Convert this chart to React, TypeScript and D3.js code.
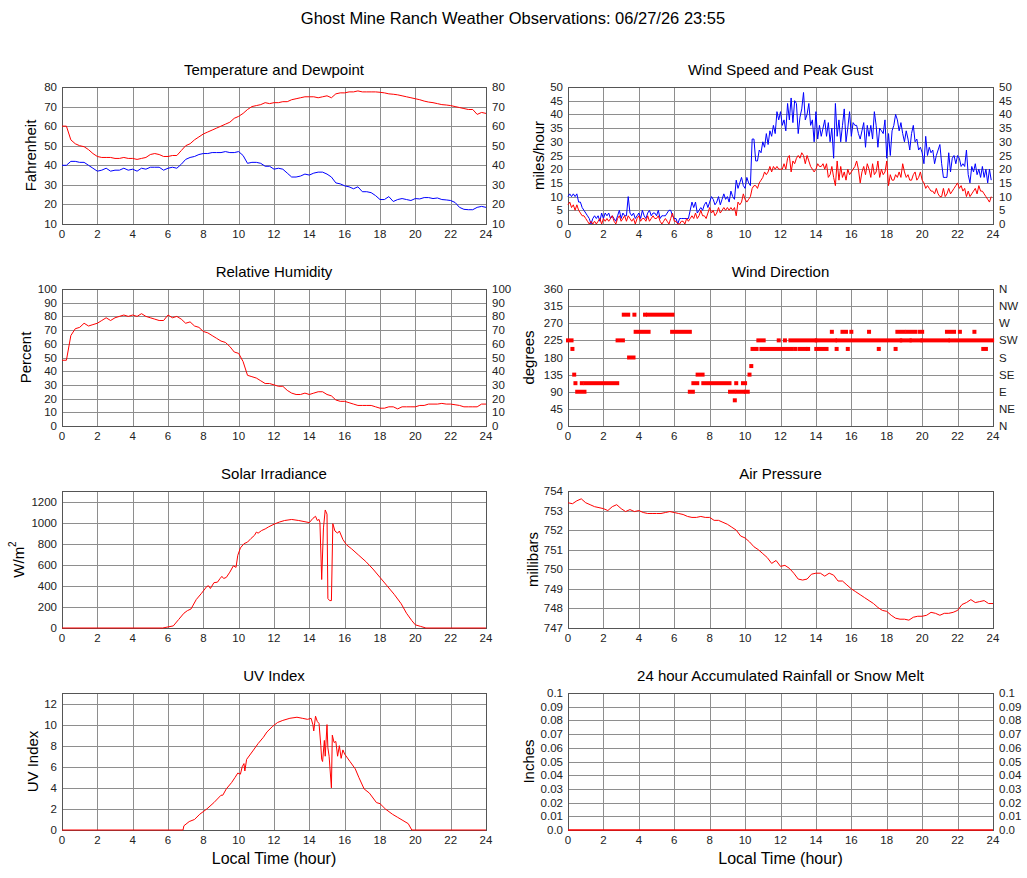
import React from "react";
import * as d3 from "d3";

// ---- data ----

const hourTicks = [0, 2, 4, 6, 8, 10, 12, 14, 16, 18, 20, 22, 24];

// temperature / dewpoint / humidity / pressure, every 15 minutes from 0:00
const tempF = [
  60, 60, 53, 51, 50, 49.5, 48, 46, 44.5, 44, 44, 44, 43.5, 43.5, 44, 43.5,
  43.5, 43, 43.5, 44, 45.5, 46, 45.5, 44.5, 44.5, 45, 45, 47.5, 50, 51, 53, 54.5,
  56, 57, 58, 59, 60, 61, 62, 64, 65, 66.5, 68.5, 70, 70.5, 71, 72, 71.5,
  72, 72, 72.5, 72.5, 73.5, 74, 74.5, 75, 75, 75, 74.5, 75, 75.5, 74.5, 76.5, 77,
  77, 77.5, 77.5, 78, 77.5, 77.5, 77.5, 77.5, 77.3, 77, 76.5, 76.3, 76, 75.5, 75, 74.5,
  74, 73.5, 72.8, 72.3, 72, 71.5, 71, 70.8, 70.5, 70, 69.5, 69, 68.5, 68.5, 66, 67,
  66.5,
];

const dewF = [
  40, 40, 42, 42, 41.5, 41.5, 40, 38.5, 37, 37.5, 38.5, 37, 37.5, 37.5, 38.5, 37.5,
  38, 37, 38.5, 38, 39, 39, 39, 37.5, 38.5, 39, 38.5, 40.5, 43, 44, 44.5, 45.5,
  46, 46, 46.5, 46.5, 46.5, 47, 46.5, 46.5, 47, 45, 41, 41.5, 41.5, 41, 39.5, 39.5,
  38, 38.5, 38, 36, 34, 34, 34.5, 35.5, 35, 36, 36.5, 36.5, 35.5, 34, 31, 30.5,
  29.5, 29, 28, 29, 26.5, 26.5, 26, 24.5, 22.5, 22.5, 24, 21.5, 22.5, 23, 22.5, 22,
  23, 22.8, 23.5, 23.5, 23, 23.3, 22.5, 22.3, 22, 21, 18.5, 17.5, 17.3, 17.3, 18.5, 19,
  18.5,
];

const humidity = [
  48, 48, 66, 71, 72, 75, 73, 74, 75, 77, 79, 77, 79, 80, 81, 80,
  81, 80, 82, 80, 79, 78, 77, 77, 81, 79, 80, 78, 75, 76, 73, 72,
  69, 68, 66, 64, 62, 61, 58, 54, 53, 47, 37, 36, 35, 33, 31, 31,
  30, 29, 29, 26, 24, 23, 23, 24, 23, 24, 25, 25, 23, 22, 19, 18,
  18, 17, 16, 15, 15, 15, 15, 14, 13, 13, 14, 14, 12.5, 14, 14, 14,
  14, 15, 15, 16, 16, 16, 16.5, 16, 16, 15.5, 15, 14, 14, 14, 14, 16,
  16,
];

const pressureMb = [
  753.4, 753.35, 753.5, 753.6, 753.4, 753.3, 753.2, 753.15, 753.1, 753.0, 753.2, 753.3,
  753.1, 752.95, 753.05, 752.95, 753.0, 752.9, 752.85, 752.85, 752.85, 752.85, 752.9, 752.95,
  752.9, 752.85, 752.8, 752.7, 752.65, 752.65, 752.7, 752.65, 752.65, 752.5, 752.5, 752.4,
  752.3, 752.15, 752.0, 751.7, 751.6, 751.4, 751.15, 751.0, 750.8, 750.6, 750.3, 750.45,
  750.15, 750.2, 750.05, 749.8, 749.5, 749.45, 749.5, 749.75, 749.8, 749.8, 749.65, 749.8,
  749.7, 749.4, 749.4, 749.2, 749.0, 748.85, 748.7, 748.55, 748.4, 748.25, 748.05, 747.9,
  747.85, 747.65, 747.5, 747.45, 747.45, 747.4, 747.55, 747.6, 747.6, 747.65, 747.8, 747.75,
  747.65, 747.75, 747.75, 747.8, 747.9, 748.2, 748.3, 748.45, 748.3, 748.35, 748.4, 748.25,
  748.25,
];

// wind, every 6 minutes from 0:00
const windGust = [
  10, 11, 10, 11, 10, 11, 8, 8, 6, 5,
  4, 3, 2, 0, 2, 3, 2, 3, 1, 4,
  2, 4, 3, 4, 2, 3, 2, 1, 3, 5,
  2, 4, 3, 3, 10, 4, 3, 4, 2, 3,
  4, 2, 5, 3, 2, 4, 5, 3, 4, 4,
  3, 5, 2, 3, 3, 3, 4, 5, 5, 3,
  2, 2, 0, 2, 2, 2, 2, 2, 2, 5,
  8, 6, 8, 4, 5, 6, 5, 7, 8, 6,
  8, 10, 9, 7, 8, 10, 7, 9, 11, 9,
  10, 8, 12, 10, 9, 16, 13, 15, 17, 14,
  13, 17, 15, 14, 31, 31, 23, 23, 27, 26,
  30, 28, 33, 29, 34, 32, 36, 33, 41, 38,
  41, 36, 38, 34, 44, 38, 46, 37, 45, 44,
  33, 39, 42, 48, 38, 40, 44, 36, 38, 30,
  41, 31, 36, 32, 35, 38, 32, 37, 30, 35,
  24, 44, 32, 38, 30, 36, 42, 30, 35, 41,
  32, 37, 36, 36, 33, 31, 34, 37, 28, 36,
  32, 36, 31, 41, 36, 28, 35, 34, 33, 38,
  24, 33, 25, 34, 36, 40, 38, 34, 37, 33,
  30, 34, 31, 27, 33, 36, 30, 31, 27, 28,
  26, 22, 32, 25, 28, 26, 27, 22, 25, 27,
  29, 22, 17, 17, 17, 26, 19, 24, 25, 22,
  25, 24, 21, 22, 21, 27, 18, 15, 21, 19,
  22, 18, 20, 17, 21, 17, 20, 15, 20, 16,
];

const windSpeed = [
  7, 8, 6, 7, 5, 7, 5, 4, 3, 3,
  2, 1, 0, 1, 0, 1, 0, 1, 2, 0,
  2, 1, 2, 1, 2, 3, 1, 0, 2, 3,
  1, 2, 3, 1, 3, 2, 1, 2, 0, 2,
  3, 1, 2, 2, 1, 3, 1, 2, 3, 2,
  2, 3, 1, 0, 1, 2, 1, 0, 2, 4,
  1, 1, 0, 0, 1, 1, 0, 2, 1, 2,
  3, 2, 4, 2, 3, 5, 3, 3, 2, 4,
  6, 4, 5, 3, 4, 6, 4, 5, 6, 5,
  6, 5, 6, 5, 6, 3, 8, 7, 8, 11,
  9, 8, 9, 10, 13, 14, 14, 13, 15, 16,
  17, 19, 18, 19, 21, 19, 21, 20, 21, 20,
  20, 20, 22, 20, 24, 25, 19, 23, 22, 24,
  25, 24, 26, 25, 22, 25, 23, 21, 20, 19,
  20, 22, 21, 21, 22, 20, 22, 17, 18, 21,
  17, 14, 23, 16, 21, 17, 19, 16, 20, 18,
  19, 20, 21, 23, 20, 15, 19, 21, 18, 22,
  20, 17, 22, 18, 19, 23, 17, 20, 18, 19,
  23, 14, 18, 16, 16, 18, 17, 19, 17, 22,
  19, 17, 18, 16, 16, 18, 19, 16, 17, 19,
  16, 15, 13, 14, 13, 12, 12, 11, 13, 11,
  10, 10, 13, 10, 11, 13, 11, 12, 13, 14,
  15, 13, 14, 12, 13, 10, 12, 10, 11, 12,
  13, 11, 14, 12, 12, 11, 10, 9, 8, 10,
];

// wind direction runs: [start hour, end hour, degrees]
const dirRuns: [number, number, number][] = [
  [0, 0.2, 225], [0.25, 0.25, 202.5], [0.35, 0.35, 135], [0.42, 0.42, 112.5],
  [0.52, 0.93, 90], [0.78, 0.78, 112.5], [0.98, 2.78, 112.5], [2.8, 3.1, 225],
  [3.15, 3.4, 292.5], [3.45, 3.7, 180], [3.75, 3.75, 292.5], [3.82, 4.55, 247.5],
  [4.35, 4.35, 292.5], [4.52, 5.9, 292.5], [5.88, 6.88, 247.5], [6.88, 7.05, 90],
  [7.08, 7.3, 112.5], [7.32, 7.6, 135], [7.64, 9.12, 112.5], [9.15, 9.35, 90],
  [9.42, 9.42, 67.5], [9.5, 9.5, 112.5], [9.55, 9.88, 90], [9.88, 10.0, 112.5],
  [10.05, 10.15, 90], [10.25, 10.25, 135], [10.35, 10.35, 157.5], [10.42, 10.65, 202.5],
  [10.75, 11.05, 225], [10.92, 12.64, 202.5], [11.9, 11.9, 225], [12.25, 12.25, 225],
  [12.56, 13.96, 225], [12.84, 12.84, 202.5], [13.08, 13.4, 202.5], [13.56, 13.56, 202.5],
  [14.02, 14.6, 202.5], [14.05, 15.08, 225], [14.9, 14.9, 247.5], [15.17, 15.17, 202.5],
  [15.22, 18.76, 225], [15.5, 15.7, 247.5], [15.8, 15.8, 202.5], [16.0, 16.0, 247.5],
  [17.0, 17.0, 247.5], [17.55, 17.55, 202.5], [18.5, 18.5, 202.5], [18.6, 18.95, 247.5],
  [18.85, 19.3, 225], [19.15, 19.6, 247.5], [19.4, 19.9, 225], [19.85, 20.0, 247.5],
  [20.02, 21.45, 225], [21.4, 21.8, 247.5], [21.6, 23.95, 225], [22.13, 22.13, 247.5],
  [22.95, 22.95, 247.5], [23.45, 23.6, 202.5],
];
const compass = ["N", "NE", "E", "SE", "S", "SW", "W", "NW", "N"];

// solar irradiance [hour, W/m2]
const solar: [number, number][] = [
  [0, 0], [5.7, 0], [6, 10], [6.3, 20], [6.6, 80], [6.9, 140], [7.1, 165], [7.3, 180],
  [7.6, 270], [7.9, 330], [8.2, 395], [8.3, 400], [8.4, 375], [8.6, 430], [8.8, 435],
  [8.95, 470], [9.05, 490], [9.15, 470], [9.3, 480], [9.5, 530], [9.7, 590], [9.85, 575],
  [9.95, 690], [10.1, 760], [10.3, 800], [10.5, 815], [10.7, 850], [10.9, 880], [11.0, 910],
  [11.1, 900], [11.3, 925], [11.5, 940], [11.7, 960], [12.0, 985], [12.3, 1005], [12.6, 1020],
  [13.0, 1030], [13.4, 1020], [13.7, 1010], [14.0, 1000], [14.2, 1040], [14.35, 1060],
  [14.45, 1020], [14.55, 1030], [14.6, 1000], [14.7, 460], [14.8, 950], [14.9, 1120],
  [15.0, 1080], [15.05, 280], [15.15, 260], [15.25, 260], [15.33, 990], [15.45, 920],
  [15.6, 900], [15.7, 920], [15.9, 840], [16.1, 790], [16.4, 750], [16.8, 690], [17.2, 630],
  [17.6, 560], [18.0, 480], [18.4, 400], [18.8, 320], [19.2, 230], [19.5, 140], [19.8, 70],
  [20.0, 30], [20.3, 15], [20.6, 0], [24, 0],
];

// UV index [hour, index]
const uvIndex: [number, number][] = [
  [0, 0], [6.85, 0], [6.9, 0.4], [7.2, 0.8], [7.5, 1.0], [7.8, 1.5], [8.2, 2.0], [8.6, 2.6],
  [9.0, 3.3], [9.1, 3.3], [9.3, 3.9], [9.6, 4.5], [9.8, 5.0], [9.95, 5.4], [10.1, 5.3],
  [10.2, 6.0], [10.3, 6.3], [10.35, 5.6], [10.45, 6.7], [10.8, 7.5], [11.1, 8.2], [11.4, 8.8],
  [11.6, 9.3], [11.9, 9.8], [12.2, 10.2], [12.5, 10.4], [12.9, 10.6], [13.3, 10.7],
  [13.6, 10.6], [13.9, 10.5], [14.1, 10.6], [14.2, 10.0], [14.25, 9.4], [14.35, 10.8],
  [14.45, 10.3], [14.55, 10.1], [14.65, 8.0], [14.7, 6.7], [14.75, 6.5], [14.85, 8.5],
  [14.9, 7.0], [15.0, 10.0], [15.05, 7.8], [15.12, 7.0], [15.25, 4.0], [15.3, 9.0],
  [15.4, 8.3], [15.5, 8.4], [15.6, 7.0], [15.7, 8.0], [15.8, 6.8], [15.9, 7.6], [16.0, 7.2],
  [16.3, 6.5], [16.6, 5.8], [16.8, 5.0], [17.1, 3.9], [17.4, 3.5], [17.8, 2.6], [18.0, 2.5],
  [18.3, 2.0], [18.7, 1.5], [19.0, 1.2], [19.3, 0.9], [19.6, 0.6], [19.8, 0], [24, 0],
];

// 24 hour accumulated rain [hour, inches]
const rainfall: [number, number][] = [[0, 0], [24, 0]];

// ---- drawing ----

const FONT = "'Liberation Sans', Arial, Helvetica, sans-serif";
const GRID = "#8e8e8e";
const PANEL_H = 137;

type Scale = d3.ScaleLinear<number, number>;

interface PanelProps {
  left: number;
  top: number;
  width: number;
  title: string;
  domain: [number, number];
  ticks: number[];
  format?: (d: number) => string;
  right?: boolean | string[];
  yLabel: React.ReactNode;
  labelGap: number;
  xTitle?: boolean;
  children: (x: Scale, y: Scale) => React.ReactNode;
}

const px = (v: number) => Math.round(v) + 0.5;

const Panel: React.FC<PanelProps> = ({
  left, top, width, title, domain, ticks, format, right, yLabel, labelGap, xTitle, children,
}) => {
  const x = d3.scaleLinear().domain([0, 24]).range([left, left + width]);
  const y = d3.scaleLinear().domain(domain).range([top + PANEL_H, top]);
  const fmt = format || ((d: number) => String(d));
  return (
    <g fontFamily={FONT}>
      <text x={left + width / 2} y={top - 12} textAnchor="middle" fontSize={15}>
        {title}
      </text>
      {hourTicks.map((h) => (
        <line key={"v" + h} x1={px(x(h))} x2={px(x(h))} y1={top} y2={top + PANEL_H} stroke={GRID} />
      ))}
      {ticks.map((t) => (
        <line key={"h" + t} x1={left} x2={left + width} y1={px(y(t))} y2={px(y(t))} stroke={GRID} />
      ))}
      <rect x={px(left)} y={px(top)} width={width} height={PANEL_H} fill="none" stroke="#555" />
      {/* data drawn over the frame so zero lines show red along the bottom */}
      {children(x, y)}
      {ticks.map((t) => (
        <text key={"l" + t} x={left - 5} y={y(t) + 4} textAnchor="end" fontSize={11.5} fill="#222">
          {fmt(t)}
        </text>
      ))}
      {right &&
        ticks.map((t, i) => (
          <text key={"r" + t} x={left + width + 6} y={y(t) + 4} textAnchor="start" fontSize={11.5} fill="#222">
            {Array.isArray(right) ? right[i] : fmt(t)}
          </text>
        ))}
      {hourTicks.map((h) => (
        <text key={"x" + h} x={x(h)} y={top + PANEL_H + 14} textAnchor="middle" fontSize={11.5} fill="#222">
          {h}
        </text>
      ))}
      <text
        transform={`translate(${left - labelGap},${top + PANEL_H / 2}) rotate(-90)`}
        textAnchor="middle"
        dominantBaseline="central"
        fontSize={15}
      >
        {yLabel}
      </text>
      {xTitle && (
        <text x={left + width / 2} y={top + PANEL_H + 34} textAnchor="middle" fontSize={16}>
          Local Time (hour)
        </text>
      )}
    </g>
  );
};

const seriesPath = (values: number[], step: number, x: Scale, y: Scale) =>
  d3
    .line<number>()
    .x((_, i) => x(i * step))
    .y((d) => y(d))(values) || "";

const pairPath = (pts: [number, number][], x: Scale, y: Scale) =>
  d3
    .line<[number, number]>()
    .x((d) => x(d[0]))
    .y((d) => y(d[1]))(pts) || "";

const LEFT_X = 62;
const LEFT_W = 424;
const RIGHT_X = 568;
const RIGHT_W = 425;
const ROWS = [87, 289, 491, 693];

const App: React.FC = () => {
  return (
    <svg
      width={1027}
      height={878}
      style={{ position: "absolute", left: 0, top: 0, background: "#fff" }}
    >
      <text x={513} y={24} textAnchor="middle" fontSize={16.5} fontFamily={FONT}>
        Ghost Mine Ranch Weather Observations: 06/27/26 23:55
      </text>

      <Panel
        left={LEFT_X} top={ROWS[0]} width={LEFT_W} title="Temperature and Dewpoint"
        domain={[10, 80]} ticks={d3.range(10, 81, 10)} right yLabel="Fahrenheit" labelGap={32}
      >
        {(x, y) => (
          <g fill="none" strokeWidth={1}>
            <path d={seriesPath(dewF, 0.25, x, y)} stroke="#0000ff" />
            <path d={seriesPath(tempF, 0.25, x, y)} stroke="#ff0000" />
          </g>
        )}
      </Panel>

      <Panel
        left={RIGHT_X} top={ROWS[0]} width={RIGHT_W} title="Wind Speed and Peak Gust"
        domain={[0, 50]} ticks={d3.range(0, 51, 5)} right yLabel="miles/hour" labelGap={30}
      >
        {(x, y) => (
          <g fill="none" strokeWidth={1}>
            <path d={seriesPath(windGust, 0.1, x, y)} stroke="#0000ff" />
            <path d={seriesPath(windSpeed, 0.1, x, y)} stroke="#ff0000" />
          </g>
        )}
      </Panel>

      <Panel
        left={LEFT_X} top={ROWS[1]} width={LEFT_W} title="Relative Humidity"
        domain={[0, 100]} ticks={d3.range(0, 101, 10)} right yLabel="Percent" labelGap={37}
      >
        {(x, y) => <path d={seriesPath(humidity, 0.25, x, y)} fill="none" stroke="#ff0000" />}
      </Panel>

      <Panel
        left={RIGHT_X} top={ROWS[1]} width={RIGHT_W} title="Wind Direction"
        domain={[0, 360]} ticks={d3.range(0, 361, 45)} right={compass} yLabel="degrees" labelGap={40}
      >
        {(x, y) => (
          <g fill="#ff0000">
            {dirRuns.map((r, i) => (
              <rect
                key={i}
                x={x(r[0]) - 2}
                y={y(r[2]) - 2}
                width={x(r[1]) - x(r[0]) + 4}
                height={4}
              />
            ))}
          </g>
        )}
      </Panel>

      <Panel
        left={LEFT_X} top={ROWS[2]} width={LEFT_W} title="Solar Irradiance"
        domain={[0, 1300]} ticks={d3.range(0, 1201, 200)}
        yLabel={
          <>
            W/m<tspan dy={-6} fontSize={10}>2</tspan>
          </>
        }
        labelGap={44}
      >
        {(x, y) => <path d={pairPath(solar, x, y)} fill="none" stroke="#ff0000" />}
      </Panel>

      <Panel
        left={RIGHT_X} top={ROWS[2]} width={RIGHT_W} title="Air Pressure"
        domain={[747, 754]} ticks={d3.range(747, 755, 1)} yLabel="millibars" labelGap={36}
      >
        {(x, y) => <path d={seriesPath(pressureMb, 0.25, x, y)} fill="none" stroke="#ff0000" />}
      </Panel>

      <Panel
        left={LEFT_X} top={ROWS[3]} width={LEFT_W} title="UV Index"
        domain={[0, 13]} ticks={d3.range(0, 13, 2)} yLabel="UV Index" labelGap={30} xTitle
      >
        {(x, y) => <path d={pairPath(uvIndex, x, y)} fill="none" stroke="#ff0000" />}
      </Panel>

      <Panel
        left={RIGHT_X} top={ROWS[3]} width={RIGHT_W} title="24 hour Accumulated Rainfall or Snow Melt"
        domain={[0, 0.1]} ticks={d3.range(0, 11).map((i) => i / 100)}
        format={(d) => (d === 0 ? "0.0" : d === 0.1 ? "0.1" : d.toFixed(2))}
        right yLabel="Inches" labelGap={40} xTitle
      >
        {(x, y) => <path d={pairPath(rainfall, x, y)} fill="none" stroke="#ff0000" strokeWidth={1.5} />}
      </Panel>
    </svg>
  );
};

export default App;
